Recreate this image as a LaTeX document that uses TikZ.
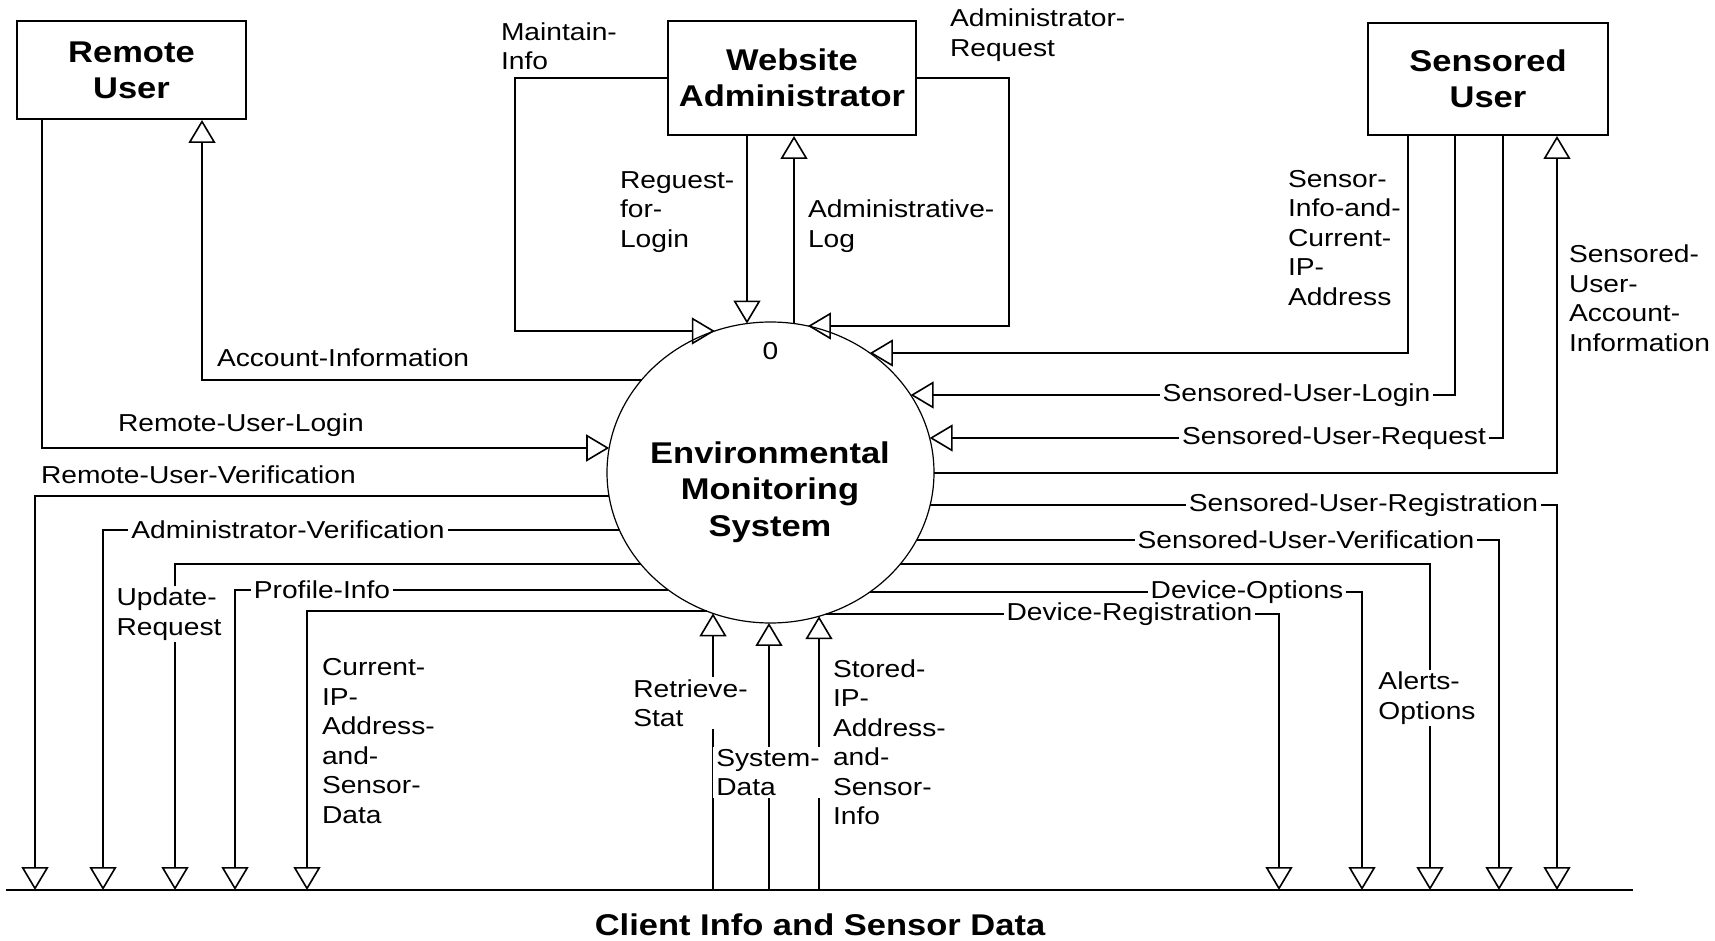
\documentclass[tikz,border=0pt]{standalone}
\usepackage{fontspec}
\setmainfont{Liberation Sans}[FakeStretch=1.15]
\usetikzlibrary{positioning,
				shapes.geometric,
				arrows.meta}

\begin{document}
\begin{tikzpicture}[x=0.5pt, y=-0.5pt, line width=1pt,
		dflow/.style={draw, -{Triangle[open, length=11.5pt, width=13.5pt, line width=0.8pt]}},
		lbl/.style={font=\fontsize{12.25}{14.75}\selectfont, align=left, inner sep=1pt},
		gaplbl/.style={lbl, fill=white, inner xsep=1.5pt, inner ysep=1pt},
		entity/.style={draw, font=\bfseries\fontsize{15}{18}\selectfont, align=center, inner sep=0pt},
		bigtxt/.style={font=\bfseries\fontsize{15}{18.3}\selectfont, align=center, inner sep=0pt},
		bubble/.style={ellipse, draw, line width=0.6pt, minimum width=163.5pt, minimum height=150.5pt, inner sep=0pt}
	]
	\useasboundingbox (0,0) rectangle (1715,941);

	% external entities
	\node[entity, minimum width=114.5pt, minimum height=49pt] (remote) at (131.5,70) {Remote\\User};
	\node[entity, minimum width=124pt, minimum height=57pt] (admin) at (792,78) {Website\\Administrator};
	\node[entity, minimum width=120pt, minimum height=56pt] (sensored) at (1488,79) {Sensored\\User};

	% process 0
	\node[bubble] (ems) at (770.5,472.5) {};
	\node[bigtxt] (emsT) at (770,492) {Environmental\\Monitoring\\System};
	\node[lbl, below=9pt of ems.north] (pnum) {0};

	% data store
	\coordinate (storeL) at (6,890);
	\coordinate (storeR) at (1633,890);
	\draw (storeL) -- (storeR);
	\node[bigtxt] (storeT) at (820,925) {Client Info and Sensor Data};

	% points on the bubble
	\foreach \nm/\s/\y in {rul/-1/448, ai/-1/380, mi/-1/331, rv/-1/496, av/-1/530, ur/-1/564, pi/-1/590, cip/-1/611,
		ar/1/326, sci/1/353, sul/1/395, sur/1/438, suai/1/473, sreg/1/505, sver/1/540, ao/1/564, dop/1/592, dreg/1/614}
	{
		\pgfmathsetmacro\ex{770.5+(\s)*163.5*sqrt(1-((\y-472.5)/150.5)^2)}
		\coordinate (r-\nm) at (\ex,\y);
	}
	\foreach \nm/\s/\x in {rfl/-1/747, alog/-1/794, rs/1/713, sd/1/769, sip/1/819}
	{
		\pgfmathsetmacro\ey{472.5+(\s)*150.5*sqrt(1-((\x-770.5)/163.5)^2)}
		\coordinate (r-\nm) at (\x,\ey);
	}
	% points on the store
	\foreach \nm/\x in {rv/35, av/103, ur/175, pi/235, cip/307, rs/713, sd/769, sip/819,
		dreg/1279, dop/1362, ao/1430, sver/1499, sreg/1557}
		\coordinate (s-\nm) at (\x,890);

	% remote user
	\draw[dflow] (42,0 |- remote.south) |- (r-rul);
	\draw[dflow] (r-ai) -| (202,0 |- remote.south);
	% website administrator
	\draw[dflow] (admin.west) -| (515,0 |- r-mi) -- (r-mi);
	\draw[dflow] (747,0 |- admin.south) -- (r-rfl);
	\draw[dflow] (r-alog) -- (794,0 |- admin.south);
	\draw[dflow] (admin.east) -| (1009,0 |- r-ar) -- (r-ar);
	% sensored user
	\draw[dflow] (1408,0 |- sensored.south) |- (r-sci);
	\draw[dflow] (1455,0 |- sensored.south) |- (r-sul);
	\draw[dflow] (1503,0 |- sensored.south) |- (r-sur);
	\draw[dflow] (r-suai) -| (1557,0 |- sensored.south);
	% store
	\foreach \nm in {rv, av, ur, pi, cip, dreg, dop, ao, sver, sreg}
		\draw[dflow] (r-\nm) -| (s-\nm);
	\foreach \nm in {rs, sd, sip}
		\draw[dflow] (s-\nm) -- (r-\nm);

	% flow labels
	\node[lbl, anchor=west] (l-rul) at (115,425) {Remote-User-Login};
	\node[lbl, anchor=west] (l-ai) at (214,358) {Account-Information};
	\node[lbl, anchor=west] (l-rv) at (38,475) {Remote-User-Verification};
	\node[gaplbl] (l-av) at (288,530) {Administrator-Verification};
	\node[gaplbl] (l-ur) at (169,614) {Update-\\Request};
	\node[gaplbl] (l-pi) at (322,590) {Profile-Info};
	\node[lbl, anchor=west] (l-cip) at (319,741) {Current-\\IP-\\Address-\\and-\\Sensor-\\Data};
	\node[lbl, anchor=west] (l-mi) at (498,46) {Maintain-\\Info};
	\node[lbl, anchor=west] (l-rfl) at (617,212) {Reguest-\\for-\\Login};
	\node[lbl, anchor=west] (l-alog) at (805,226) {Administrative-\\Log};
	\node[lbl, anchor=west] (l-ar) at (947,35) {Administrator-\\Request};
	\node[lbl, anchor=west] (l-sci) at (1285,238) {Sensor-\\Info-and-\\Current-\\IP-\\Address};
	\node[gaplbl] (l-sul) at (1296.5,395) {Sensored-User-Login};
	\node[gaplbl] (l-sur) at (1334,438) {Sensored-User-Request};
	\node[lbl, anchor=west] (l-suai) at (1566,298) {Sensored-\\User-\\Account-\\Information};
	\node[gaplbl] (l-sreg) at (1363.5,505) {Sensored-User-Registration};
	\node[gaplbl] (l-sver) at (1306,540) {Sensored-User-Verification};
	\node[gaplbl] (l-ao) at (1427,698) {Alerts-\\Options};
	\node[gaplbl] (l-dop) at (1247,592) {Device-Options};
	\node[gaplbl] (l-dreg) at (1129.5,614) {Device-Registration};
	\node[gaplbl] (l-rs) at (690.5,703) {Retrieve-\\Stat};
	\node[gaplbl] (l-sd) at (768,772.5) {System-\\Data};
	\node[lbl, anchor=west] (l-sip) at (830,742) {Stored-\\IP-\\Address-\\and-\\Sensor-\\Info};
\end{tikzpicture}
\end{document}
